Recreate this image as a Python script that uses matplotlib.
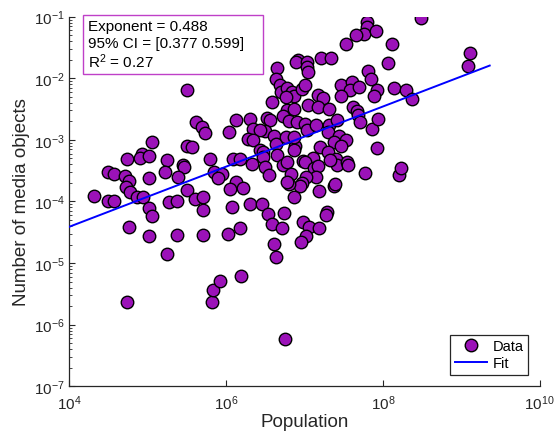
import numpy as np
import matplotlib
matplotlib.use('Agg')
import matplotlib.pyplot as plt
from matplotlib.patches import Rectangle
from matplotlib.ticker import LogLocator, NullLocator, LogFormatterSciNotation

plt.rcParams['font.family'] = ['Liberation Sans', 'DejaVu Sans']
plt.rcParams['mathtext.fontset'] = 'custom'
plt.rcParams['mathtext.rm'] = 'Liberation Sans'
plt.rcParams['mathtext.it'] = 'Liberation Sans:italic'

# log10 of population and of media objects
log_population = [
    8.49, 7.80, 7.80, 7.76, 7.66, 7.91, 7.53, 8.12, 8.07, 9.11,
    9.08, 7.21, 7.34, 6.92, 6.89, 7.03, 7.03, 7.05, 6.65, 6.64,
    6.69, 6.70, 6.78, 6.84, 6.87, 6.97, 7.01, 6.59, 6.77, 7.17,
    7.24, 7.05, 7.17, 7.31, 7.47, 7.60, 7.58, 7.70, 7.46, 7.81,
    7.85, 7.93, 7.89, 8.14, 8.30, 8.37, 7.62, 7.67, 7.68, 5.50,
    7.71, 7.86, 7.94, 6.78, 6.86, 6.73, 6.80, 6.91, 7.00, 7.03,
    7.15, 7.31, 7.42, 7.30, 7.44, 7.37, 7.53, 7.46, 7.20, 6.88,
    6.52, 6.56, 6.50, 6.61, 6.64, 6.77, 6.87, 5.62, 5.69, 5.73,
    6.04, 6.13, 6.31, 6.34, 6.43, 6.28, 6.34, 5.06, 5.50, 5.57,
    7.93, 6.43, 6.47, 6.47, 6.65, 6.87, 6.98, 7.11, 7.30, 7.40,
    7.42, 7.33, 7.54, 7.56, 6.33, 6.49, 6.55, 6.73, 6.78, 6.83,
    7.01, 7.12, 7.17, 7.14, 7.02, 6.97, 6.94, 6.80, 6.78, 6.87,
    7.19, 7.37, 7.39, 7.77, 8.20, 8.23, 5.25, 4.74, 4.93, 4.90,
    5.02, 5.45, 5.46, 5.80, 6.09, 6.18, 4.49, 4.57, 4.71, 4.76,
    5.02, 5.22, 5.39, 5.85, 5.95, 5.90, 6.13, 6.05, 6.22, 4.72,
    4.77, 4.86, 4.94, 5.50, 5.60, 5.71, 4.32, 4.49, 4.57, 5.27,
    5.37, 5.71, 5.02, 5.06, 6.08, 6.31, 6.46, 6.54, 6.59, 6.71,
    6.74, 6.98, 7.06, 7.19, 7.29, 7.28, 7.02, 6.96, 6.61, 6.64,
    4.76, 5.02, 5.37, 5.71, 6.03, 6.18, 5.25, 4.74, 5.82, 5.83,
    5.92, 6.19, 6.75,
]
log_media = [
    -1.02, -1.09, -1.17, -1.28, -1.30, -1.23, -1.44, -1.44, -1.75, -1.59,
    -1.80, -1.67, -1.67, -1.70, -1.74, -1.74, -1.82, -1.90, -1.83, -2.01,
    -2.11, -2.22, -2.16, -2.22, -2.29, -2.17, -2.11, -2.38, -2.30, -2.27,
    -2.32, -2.43, -2.47, -2.50, -2.11, -2.06, -2.19, -2.14, -2.29, -1.88,
    -2.01, -2.19, -2.29, -2.16, -2.19, -2.34, -2.47, -2.53, -2.60, -2.19,
    -2.71, -2.82, -2.66, -2.51, -2.50, -2.61, -2.69, -2.71, -2.74, -2.84,
    -2.76, -2.76, -2.68, -2.87, -2.94, -3.03, -3.00, -3.10, -3.12, -3.10,
    -2.64, -2.68, -2.86, -2.94, -3.07, -2.95, -2.95, -2.71, -2.79, -2.89,
    -2.87, -2.68, -2.66, -2.82, -2.84, -2.99, -3.00, -3.03, -3.10, -3.12,
    -3.13, -3.16, -3.20, -3.28, -3.25, -3.16, -3.34, -3.29, -3.20, -3.31,
    -3.41, -3.33, -3.36, -3.41, -3.39, -3.44, -3.57, -3.41, -3.36, -3.55,
    -3.36, -3.46, -3.42, -3.60, -3.60, -3.70, -3.75, -3.72, -3.68, -3.93,
    -3.83, -3.75, -3.72, -3.54, -3.57, -3.46, -3.33, -3.31, -3.23, -3.29,
    -3.26, -3.41, -3.44, -3.31, -3.31, -3.31, -3.52, -3.55, -3.59, -3.67,
    -3.62, -3.52, -3.60, -3.52, -3.55, -3.62, -3.68, -3.80, -3.78, -3.76,
    -3.85, -3.93, -3.93, -3.81, -3.96, -3.93, -3.91, -3.99, -3.99, -4.01,
    -3.99, -4.14, -4.11, -4.24, -4.09, -4.04, -4.04, -4.20, -4.37, -4.43,
    -4.19, -4.33, -4.41, -4.43, -4.17, -4.22, -4.56, -4.66, -4.69, -4.90,
    -4.41, -4.56, -4.54, -4.54, -4.53, -4.43, -4.85, -5.63, -5.63, -5.44,
    -5.29, -5.21, -6.23,
]

fit_exponent = 0.488
fit_log_intercept = -6.362
fit_x_range = [1e4, 2.3e9]
stats_lines = ['Exponent = 0.488', '95% CI = [0.377 0.599]', r'$\mathrm{R}^2$ = 0.27']

population = 10 ** np.array(log_population)
media = 10 ** np.array(log_media)

fig = plt.figure(figsize=(5.55, 4.39), dpi=100)
ax = fig.add_axes([0.1249, 0.1178, 0.8476, 0.8419])

ax.plot(population, media, 'o', markersize=9, markerfacecolor='#9b12b8',
        markeredgecolor='black', markeredgewidth=1.0, label='Data', zorder=3)

xf = np.logspace(np.log10(fit_x_range[0]), np.log10(fit_x_range[1]), 50)
yf = 10 ** fit_log_intercept * xf ** fit_exponent
ax.plot(xf, yf, color='#0000ff', lw=1.4, label='Fit', zorder=4)

ax.set_xscale('log')
ax.set_yscale('log')
ax.set_xlim(1e4, 1e10)
ax.set_ylim(1e-7, 1e-1)
ax.xaxis.set_major_formatter(LogFormatterSciNotation())
ax.set_xticks([1e4, 1e6, 1e8, 1e10])
ax.xaxis.set_minor_locator(NullLocator())
ax.set_yticks([10.0 ** k for k in range(-7, 0)])
ax.yaxis.set_minor_locator(LogLocator(base=10, subs=np.arange(2, 10), numticks=20))

for s in ['top', 'right']:
    ax.spines[s].set_visible(False)
for s in ['left', 'bottom']:
    ax.spines[s].set_color('#262626')
    ax.spines[s].set_linewidth(0.9)

ax.tick_params(which='both', direction='in', colors='#262626', labelsize=11)
ax.tick_params(which='major', length=4.5, width=0.8)
ax.tick_params(which='minor', length=2.5, width=0.6)
ax.tick_params(axis='y', pad=3)
ax.tick_params(axis='x', pad=5)

ax.set_xlabel('Population', fontsize=13.5, color='#262626', labelpad=1)
ax.set_ylabel('Number of media objects', fontsize=13.5, color='#262626', labelpad=3)

leg = ax.legend(loc='lower right', fontsize=10.5, fancybox=False, framealpha=1,
                edgecolor='#262626', borderaxespad=0.8, handlelength=2.2,
                handletextpad=0.4, borderpad=0.3, labelspacing=0.2)
leg.get_frame().set_linewidth(0.9)

# stats box in the top-left corner
fig.patches.append(Rectangle((82.7 / 555, 1 - 75 / 439), 180.3 / 555, 59 / 439,
                             transform=fig.transFigure, fill=False,
                             edgecolor='#bf40c8', linewidth=1.0))
for line, base in zip(stats_lines, [31, 48, 68]):
    fig.text(88 / 555, 1 - base / 439, line, fontsize=11, va='baseline',
             ha='left', color='black')

fig.savefig('out.png', dpi=100)
